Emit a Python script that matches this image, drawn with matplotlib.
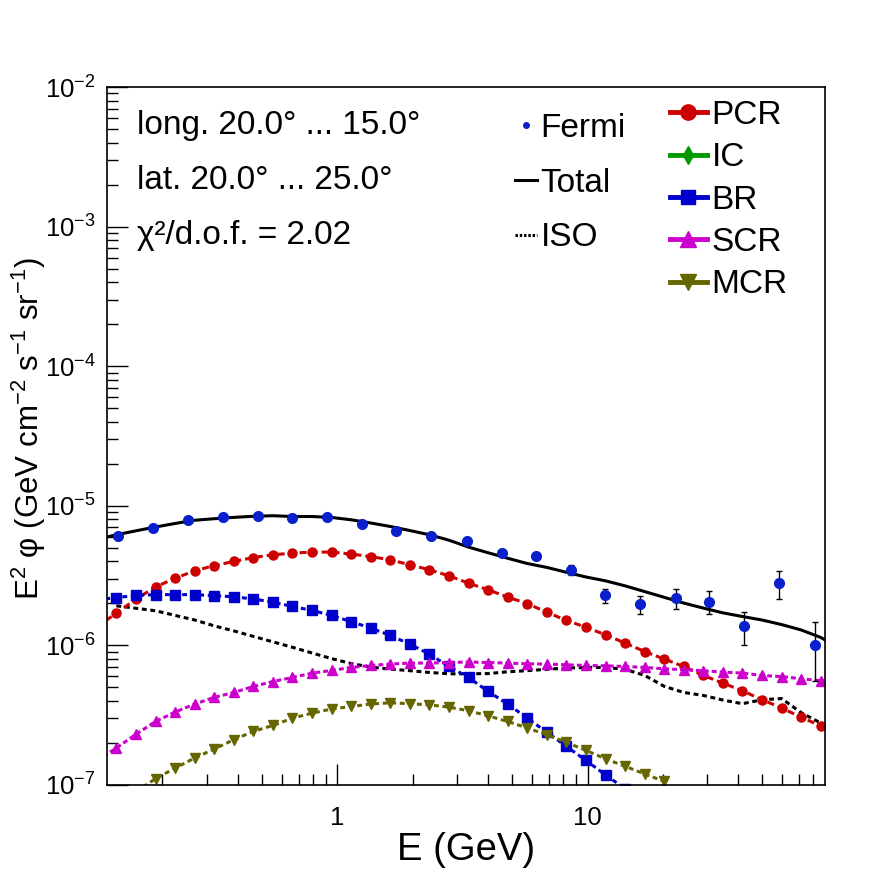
import matplotlib
matplotlib.use('Agg')
import matplotlib.pyplot as plt
import numpy as np
from matplotlib.lines import Line2D
from matplotlib.ticker import LogLocator, NullFormatter

plt.rcParams['font.family'] = ['Liberation Sans', 'DejaVu Sans']
plt.rcParams['mathtext.fontset'] = 'custom'
plt.rcParams['mathtext.rm'] = 'Liberation Sans'
plt.rcParams['mathtext.it'] = 'Liberation Sans:italic'
plt.rcParams['mathtext.default'] = 'regular'

nan = np.nan

# Fermi data (flux in units of 1e-6 GeV cm^-2 s^-1 sr^-1)
fermi_e = [0.1324, 0.1828, 0.2523, 0.3483, 0.4808, 0.6577, 0.9078, 1.253, 1.714, 2.366, 3.296,
           4.538, 6.206, 8.567, 11.75, 16.26, 22.53, 30.71, 42.39, 58.52, 80.78]
fermi_flux = [6.10, 6.96, 7.94, 8.34, 8.48, 8.20, 8.34, 7.43, 6.62, 6.10, 5.55,
              4.61, 4.38, 3.48, 2.28, 1.98, 2.18, 2.06, 1.37, 2.79, 1.01]
fermi_err = [0.08, 0.08, 0.09, 0.09, 0.09, 0.09, 0.10, 0.10, 0.10, 0.10, 0.10,
             0.10, 0.12, 0.30, 0.26, 0.29, 0.35, 0.39, 0.37, 0.63, 0.45]

# model energy grid (GeV)
model_e = [0.1093, 0.1308, 0.1567, 0.1876, 0.2246, 0.2690, 0.3219, 0.3855, 0.4615, 0.5526,
           0.6616, 0.7922, 0.9484, 1.1355, 1.3596, 1.6278, 1.9489, 2.3335, 2.7939, 3.3450,
           4.005, 4.795, 5.741, 6.874, 8.230, 9.854, 11.80, 14.13, 16.91, 20.25,
           24.24, 29.03, 34.75, 41.61, 49.82, 59.65, 71.42, 85.51, 102.4]

# model components (same units as fermi_flux)
total = [5.75, 6.20, 6.62, 7.05, 7.47, 7.88, 8.08, 8.26, 8.41, 8.49,
         8.38, 8.38, 8.25, 7.94, 7.53, 7.11, 6.65, 6.20, 5.67, 5.06,
         4.61, 4.21, 3.86, 3.62, 3.34, 3.09, 2.90, 2.67, 2.43, 2.21,
         2.01, 1.85, 1.71, 1.61, 1.52, 1.41, 1.29, 1.14, 0.945]
pcr = [1.36, 1.70, 2.15, 2.62, 3.03, 3.42, 3.73, 3.99, 4.26, 4.46,
       4.58, 4.66, 4.66, 4.51, 4.33, 4.10, 3.78, 3.48, 3.15, 2.79,
       2.50, 2.22, 1.99, 1.73, 1.51, 1.35, 1.19, 1.04, 0.904, 0.798,
       0.706, 0.609, 0.537, 0.473, 0.408, 0.356, 0.306, 0.265, 0.230]
br = [2.12, 2.20, 2.28, 2.31, 2.31, 2.31, 2.27, 2.23, 2.15, 2.04,
      1.90, 1.78, 1.64, 1.48, 1.33, 1.18, 1.02, 0.866, 0.706, 0.589,
      0.468, 0.380, 0.301, 0.239, 0.189, 0.150, 0.118, 0.094, nan, nan,
      nan, nan, nan, nan, nan, nan, nan, nan, nan]
iso = [nan, 1.92, 1.845, 1.77, 1.64, 1.52, 1.38, 1.27, 1.16, 1.06,
       0.969, 0.882, 0.804, 0.741, 0.699, 0.676, 0.659, 0.640, 0.626, 0.626,
       0.628, 0.647, 0.659, 0.674, 0.688, 0.695, 0.696, 0.674, 0.610, 0.509,
       0.460, 0.438, 0.406, 0.382, 0.408, 0.416, 0.330, 0.278, 0.249]
scr = [0.149, 0.184, 0.231, 0.285, 0.333, 0.380, 0.424, 0.460, 0.508, 0.551,
       0.589, 0.633, 0.661, 0.695, 0.718, 0.735, 0.747, 0.747, 0.754, 0.760,
       0.754, 0.747, 0.738, 0.735, 0.726, 0.718, 0.714, 0.706, 0.695, 0.680,
       0.669, 0.658, 0.644, 0.633, 0.609, 0.598, 0.577, 0.558, 0.540]
mcr = [nan, nan, 0.0894, 0.111, 0.132, 0.156, 0.181, 0.211, 0.242, 0.267,
       0.301, 0.327, 0.350, 0.365, 0.380, 0.388, 0.382, 0.375, 0.361, 0.340,
       0.313, 0.285, 0.256, 0.229, 0.202, 0.177, 0.154, 0.136, 0.120, 0.106,
       nan, nan, nan, nan, nan, nan, nan, nan, nan]

info_lines = ['long. 20.0° ... 15.0°', 'lat. 20.0° ... 25.0°', 'χ²/d.o.f. = 2.02']

scale = 1e-6
E = np.array(model_e)

fig = plt.figure(figsize=(8.96, 8.72), dpi=100)
ax = fig.add_axes([0.1194, 0.0998, 0.8014, 0.8004])

LW = 2.2
MS = 6.5
comps = [
    ('PCR', pcr, '#cc0000', 'o', (0, (2.3, 1.3))),
    ('BR', br, '#0000cc', 's', (0, (1.6, 1.2))),
    ('SCR', scr, '#cc00cc', '^', (0, (1.6, 1.0))),
    ('MCR', mcr, '#666600', 'v', (0, (1.6, 1.2))),
]
ax.plot(E, np.array(iso) * scale, color='black', lw=LW, ls=(0, (1.6, 1.2)))
for name, vals, col, mk, ls in comps:
    ax.plot(E, np.array(vals) * scale, color=col, lw=LW, ls=ls,
            marker=mk, ms=MS, mec=col, mfc=col)
ax.plot(E, np.array(total) * scale, color='black', lw=LW, solid_capstyle='butt')

ax.errorbar(fermi_e, np.array(fermi_flux) * scale, yerr=np.array(fermi_err) * scale,
            fmt='o', color='#0a20cc', ms=7, ecolor='black', elinewidth=1.0,
            capsize=2.5, capthick=1.0, zorder=5)

ax.set_xscale('log')
ax.set_yscale('log')
ax.set_xlim(0.12, 89)
ax.set_ylim(1e-7, 1e-2)

ax.set_xticks([1, 10])
ax.set_xticklabels(['1', '10'])
ax.xaxis.set_minor_locator(LogLocator(base=10, subs=np.arange(2, 10)))
ax.xaxis.set_minor_formatter(NullFormatter())
ax.yaxis.set_minor_locator(LogLocator(base=10, subs=np.arange(2, 10), numticks=20))
ax.yaxis.set_minor_formatter(NullFormatter())

ax.tick_params(which='both', direction='in', top=False, right=False, width=1.0)
ax.tick_params(which='major', length=15, labelsize=18.5)
ax.tick_params(which='minor', length=8)
ax.tick_params(axis='x', which='major', pad=15)
ax.tick_params(axis='y', which='major', pad=8)
for sp in ax.spines.values():
    sp.set_linewidth(1.2)

ax.set_xlabel('E (GeV)', fontsize=27.5)
ax.xaxis.set_label_coords(0.5, -0.067)
ax.set_ylabel('E$^{2}$ φ (GeV cm$^{-2}$ s$^{-1}$ sr$^{-1}$)', fontsize=22.5)
ax.yaxis.set_label_coords(-0.082, 0.511)

for i, txt in enumerate(info_lines):
    ax.text(0.042, [0.9327, 0.8539, 0.775][i], txt, transform=ax.transAxes,
            fontsize=24, va='baseline', ha='left')

left_handles = [
    Line2D([], [], ls='none', marker='o', ms=4, color='#0a20cc'),
    Line2D([], [], color='black', lw=LW),
    Line2D([], [], color='black', lw=LW, ls=(0, (0.8, 0.6))),
]
leg1 = ax.legend(left_handles, ['Fermi', 'Total', 'ISO'], loc='upper left',
                 bbox_to_anchor=(0.568, 0.963), frameon=False, fontsize=24,
                 handlelength=0.67, handletextpad=0.1, labelspacing=0.71,
                 borderpad=0, borderaxespad=0)
ax.add_artist(leg1)

right_handles = [
    Line2D([], [], color='#cc0000', lw=3.5, marker='o', ms=11),
    Line2D([], [], color='#009900', lw=3.5, marker='d', ms=9),
    Line2D([], [], color='#0000cc', lw=3.5, marker='s', ms=10),
    Line2D([], [], color='#cc00cc', lw=3.5, marker='^', ms=11),
    Line2D([], [], color='#666600', lw=3.5, marker='v', ms=11),
]
ax.legend(right_handles, ['PCR', 'IC', 'BR', 'SCR', 'MCR'], loc='upper left',
          bbox_to_anchor=(0.784, 0.9815), frameon=False, fontsize=24,
          handlelength=1.1, handletextpad=0.15, labelspacing=0.34,
          borderpad=0, borderaxespad=0)

fig.savefig('out.png', dpi=100)
